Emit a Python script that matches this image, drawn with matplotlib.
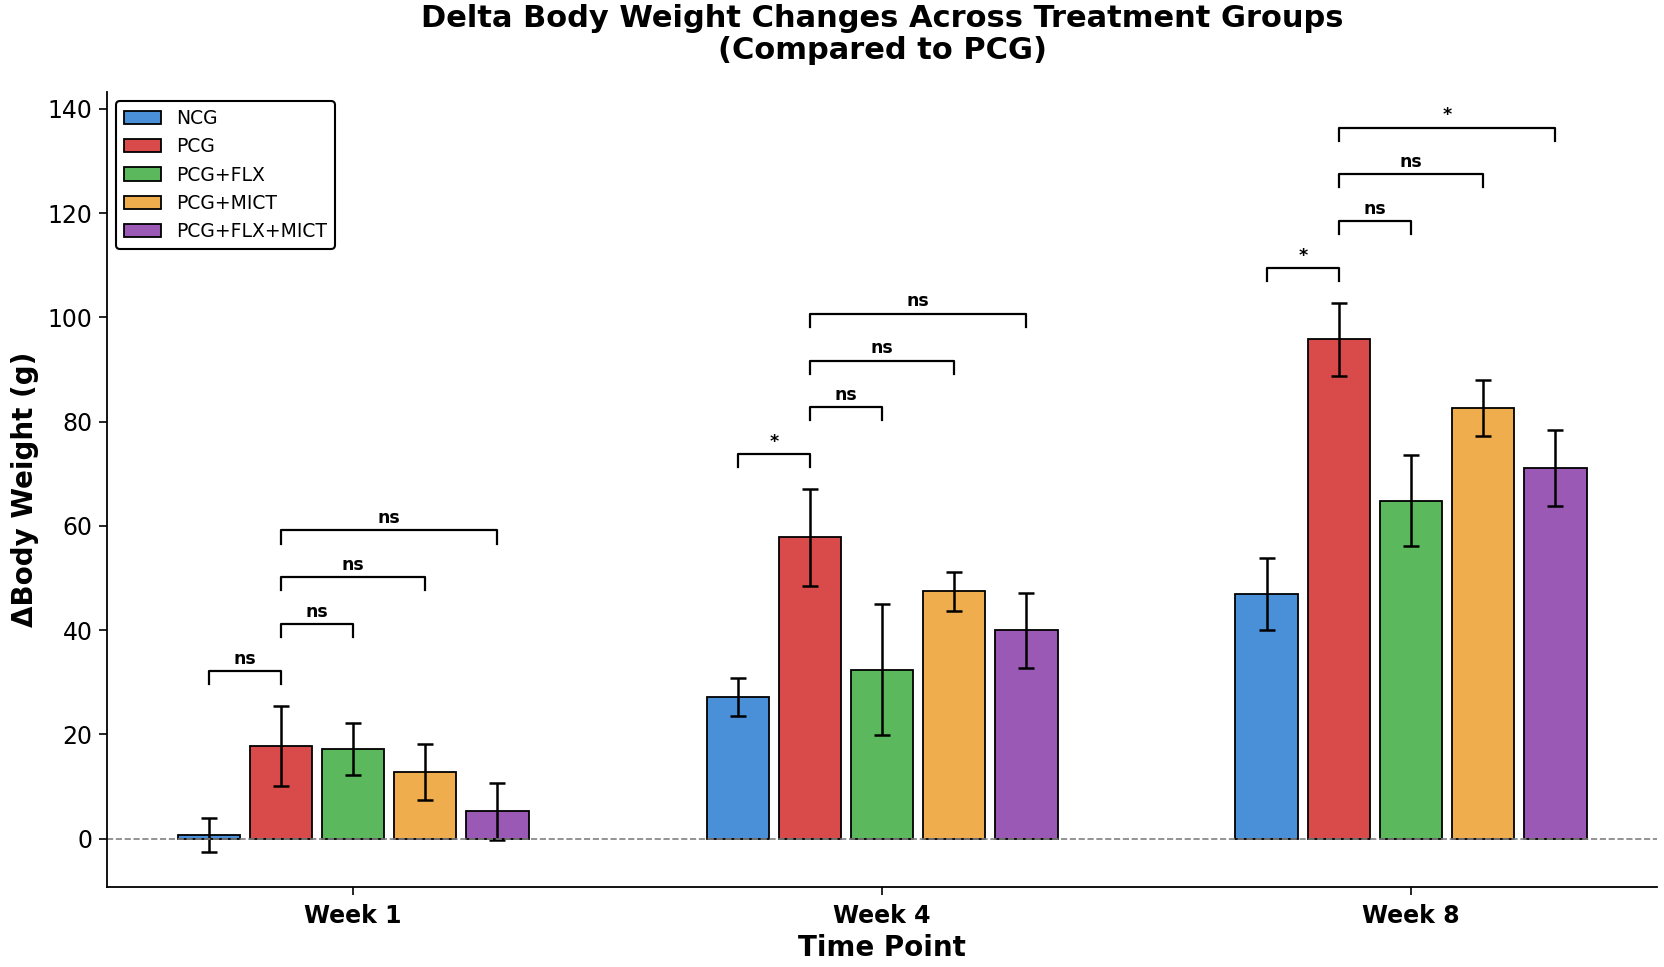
import numpy as np
import matplotlib
matplotlib.use('Agg')
import matplotlib.pyplot as plt

# data
weeks = ['Week 1', 'Week 4', 'Week 8']
groups = ['NCG', 'PCG', 'PCG+FLX', 'PCG+MICT', 'PCG+FLX+MICT']
colors = ['#4A90D9', '#D94A4A', '#5CB85C', '#F0AD4E', '#9B59B6']

ncg = [0.7, 27.2, 47.0]
pcg = [17.8, 57.8, 95.8]
pcg_flx = [17.2, 32.4, 64.8]
pcg_mict = [12.8, 47.4, 82.6]
pcg_flx_mict = [5.2, 40.0, 71.0]

ncg_err = [3.2, 3.6, 6.9]
pcg_err = [7.7, 9.3, 7.0]
pcg_flx_err = [5.0, 12.5, 8.7]
pcg_mict_err = [5.4, 3.7, 5.4]
pcg_flx_mict_err = [5.4, 7.2, 7.3]

# significance vs PCG, per week, for NCG / FLX / MICT / FLX+MICT
sig_w1 = ['ns', 'ns', 'ns', 'ns']
sig_w4 = ['*', 'ns', 'ns', 'ns']
sig_w8 = ['*', 'ns', 'ns', '*']

means = [ncg, pcg, pcg_flx, pcg_mict, pcg_flx_mict]
errs = [ncg_err, pcg_err, pcg_flx_err, pcg_mict_err, pcg_flx_mict_err]
sigs = [sig_w1, sig_w4, sig_w8]

fig, ax = plt.subplots(figsize=(16.65, 9.67), dpi=100)
fig.subplots_adjust(left=0.0643, right=0.9952, top=0.9049, bottom=0.0827)

x = np.arange(len(weeks)) * 1.1
step = 0.15
width = 0.13

for i, g in enumerate(groups):
    ax.bar(x + (i - 2) * step, means[i], width, yerr=errs[i], label=g,
           color=colors[i], edgecolor='black', linewidth=1.3,
           capsize=6, error_kw=dict(elinewidth=1.8, capthick=1.8, ecolor='black'))

ax.axhline(0, color='gray', linestyle='--', linewidth=1.2)

# brackets (PCG is index 1)
top_h = 0
for w in range(len(weeks)):
    tops = [means[i][w] + errs[i][w] for i in range(5)]
    base = max(tops) + 6.6
    others = [0, 2, 3, 4]
    for k, j in enumerate(others):
        h = base + k * 9.0
        x1 = x[w] + (1 - 2) * step
        x2 = x[w] + (j - 2) * step
        ax.plot([x1, x1, x2, x2], [h - 2.5, h, h, h - 2.5], color='black', linewidth=1.6)
        ax.text((x1 + x2) / 2, h + 0.6, sigs[w][k], ha='center', va='bottom',
                fontsize=12.5, fontweight='bold')
        top_h = max(top_h, h)

ax.set_ylim(-9.3, top_h * 1.05)
ax.set_xticks(x)
ax.set_xticklabels(weeks, fontsize=17, fontweight='bold')
ax.tick_params(axis='y', labelsize=17, length=5.5, width=1.2, pad=5)
ax.tick_params(axis='x', length=5.5, width=1.2, pad=7)
ax.set_xlabel('Time Point', fontsize=20, fontweight='bold', labelpad=4)
ax.set_ylabel('ΔBody Weight (g)', fontsize=20, fontweight='bold', labelpad=6)
ax.set_title('Delta Body Weight Changes Across Treatment Groups\n(Compared to PCG)',
             fontsize=22, fontweight='bold', pad=24, linespacing=1.1)

ax.spines['top'].set_visible(False)
ax.spines['right'].set_visible(False)
ax.spines['left'].set_linewidth(1.3)
ax.spines['bottom'].set_linewidth(1.3)

leg = ax.legend(loc='upper left', fontsize=13.5, frameon=True, edgecolor='black',
                fancybox=True, framealpha=1)
leg.get_frame().set_linewidth(1.5)

plt.savefig('out.png', dpi=100)
